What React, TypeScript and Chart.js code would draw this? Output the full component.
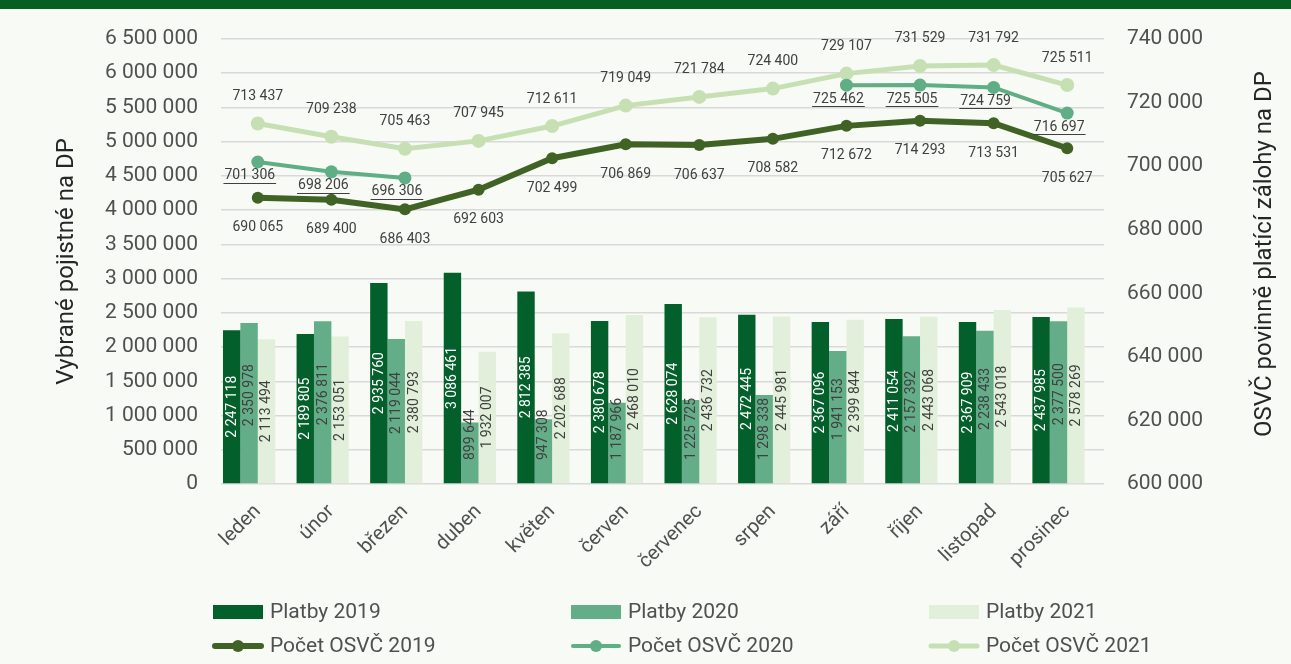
import React, { useEffect, useRef } from 'react';
import { Chart, registerables } from 'chart.js';
Chart.register(...registerables);

const months = ['leden', 'únor', 'březen', 'duben', 'květen', 'červen', 'červenec', 'srpen', 'září', 'říjen', 'listopad', 'prosinec'];
const platby2019 = [2247118, 2189805, 2935760, 3086461, 2812385, 2380678, 2628074, 2472445, 2367096, 2411054, 2367909, 2437985];
const platby2020 = [2350978, 2376811, 2119044, 899644, 947308, 1187966, 1225725, 1298338, 1941153, 2157392, 2238433, 2377500];
const platby2021 = [2113494, 2153051, 2380793, 1932007, 2202688, 2468010, 2436732, 2445981, 2399844, 2443068, 2543018, 2578269];
const osvc2019 = [690065, 689400, 686403, 692603, 702499, 706869, 706637, 708582, 712672, 714293, 713531, 705627];
const osvc2020 = [701306, 698206, 696306, null, null, null, null, null, 725462, 725505, 724759, 716697];
const osvc2021 = [713437, 709238, 705463, 707945, 712611, 719049, 721784, 724400, 729107, 731529, 731792, 725511];

const seriesNames = ['Platby 2019', 'Platby 2020', 'Platby 2021', 'Počet OSVČ 2019', 'Počet OSVČ 2020', 'Počet OSVČ 2021'];
const leftTitle = 'Vybrané pojistné na DP';
const rightTitle = 'OSVČ povinně platící zálohy na DP';

const C_BAR19 = '#04602B';
const C_BAR20 = '#63AE88';
const C_BAR21 = '#E2EFDA';
const C_LINE19 = '#406325';
const C_LINE20 = '#60AE86';
const C_LINE21 = '#C6E0B4';
const TEXT = '#505050';
const TITLE = '#262626';
const FONT = 'Roboto, "Noto Sans", sans-serif';

const fmt = (v: number) => String(Math.round(v)).replace(/\B(?=(\d{3})+(?!\d))/g, ' ');

// label styling per dataset label
const labelStyle: Record<string, any> = {
  'Platby 2019': { kind: 'bar', color: '#FFFFFF', dy: 0 },
  'Platby 2020': { kind: 'bar', color: '#404040', dy: -8 },
  'Platby 2021': { kind: 'bar', color: '#404040', dy: 0 },
  'Počet OSVČ 2019': { kind: 'line', color: '#404040', dx: 0, dy: 30 },
  'Počet OSVČ 2020': { kind: 'line', color: '#404040', dx: -8, dy: 14, underline: true },
  'Počet OSVČ 2021': { kind: 'line', color: '#404040', dx: 0, dy: -27 },
};

const valueLabels = {
  id: 'valueLabels',
  afterDatasetsDraw(chart: any) {
    const ctx = chart.ctx;
    const bottom = chart.chartArea.bottom;
    chart.data.datasets.forEach((ds: any, i: number) => {
      const st = labelStyle[ds.label];
      if (!st) return;
      const meta = chart.getDatasetMeta(i);
      meta.data.forEach((el: any, j: number) => {
        const v = ds.data[j];
        if (v == null) return;
        const text = fmt(v);
        ctx.save();
        ctx.fillStyle = st.color;
        ctx.font = `14px ${FONT}`;
        if (st.kind === 'bar') {
          const len = ctx.measureText(text).width;
          const { x, y, base } = el.getProps(['x', 'y', 'base'], true);
          let cy = (y + base) / 2 + st.dy;
          cy = Math.min(cy, bottom - 24 - len / 2);
          ctx.translate(x + 0.5, cy);
          ctx.rotate(-Math.PI / 2);
          ctx.textAlign = 'center';
          ctx.textBaseline = 'middle';
          ctx.fillText(text, 0, 0);
        } else {
          const { x, y } = el.getProps(['x', 'y'], true);
          const tx = x + st.dx;
          const ty = y + st.dy;
          ctx.textAlign = 'center';
          ctx.textBaseline = 'middle';
          ctx.fillText(text, tx, ty);
          if (st.underline) {
            const w = ctx.measureText(text).width;
            ctx.strokeStyle = st.color;
            ctx.lineWidth = 1;
            ctx.beginPath();
            ctx.moveTo(tx - w / 2 - 1, Math.round(ty + 7) + 0.5);
            ctx.lineTo(tx + w / 2 + 1, Math.round(ty + 7) + 0.5);
            ctx.stroke();
          }
        }
        ctx.restore();
      });
    });
  },
};

const legendCols = [213, 571, 929];
const legendRows = [612, 646];

const customLegend = {
  id: 'customLegend',
  afterDraw(chart: any) {
    const ctx = chart.ctx;
    seriesNames.forEach((name, k) => {
      const ds = chart.data.datasets.find((d: any) => d.label === name);
      if (!ds) return;
      const col = k % 3;
      const row = Math.floor(k / 3);
      const x0 = legendCols[col];
      const cy = legendRows[row];
      ctx.save();
      if (ds.type === 'bar') {
        ctx.fillStyle = ds.backgroundColor;
        ctx.fillRect(x0, cy - 7, 50, 14);
      } else {
        ctx.strokeStyle = ds.borderColor;
        ctx.lineWidth = ds.borderWidth;
        ctx.lineCap = 'round';
        ctx.beginPath();
        ctx.moveTo(x0 + 2, cy);
        ctx.lineTo(x0 + 48, cy);
        ctx.stroke();
        ctx.fillStyle = ds.borderColor;
        ctx.beginPath();
        ctx.arc(x0 + 25, cy, 6, 0, Math.PI * 2);
        ctx.fill();
      }
      ctx.fillStyle = TEXT;
      ctx.font = `21px ${FONT}`;
      ctx.textAlign = 'left';
      ctx.textBaseline = 'middle';
      ctx.fillText(ds.label, x0 + 57, cy + 1);
      ctx.restore();
    });
    // right axis title, reading bottom-to-top
    ctx.save();
    ctx.fillStyle = TITLE;
    ctx.font = `24px ${FONT}`;
    ctx.textAlign = 'center';
    ctx.textBaseline = 'middle';
    ctx.translate(1265, 254);
    ctx.rotate(-Math.PI / 2);
    ctx.fillText(rightTitle, 0, 0);
    ctx.restore();
  },
};

export default function App() {
  const ref = useRef<HTMLCanvasElement>(null);
  useEffect(() => {
    document.body.style.margin = '0';
    document.body.style.overflow = 'hidden';
    const canvas = ref.current!;
    const chart = new Chart(canvas, {
      data: {
        labels: months,
        datasets: [
          { type: 'line', label: seriesNames[3], data: osvc2019, yAxisID: 'y1', borderColor: C_LINE19, backgroundColor: C_LINE19, borderWidth: 6, pointRadius: 6, pointBackgroundColor: C_LINE19, pointBorderWidth: 0, order: 1 },
          { type: 'line', label: seriesNames[4], data: osvc2020, yAxisID: 'y1', borderColor: C_LINE20, backgroundColor: C_LINE20, borderWidth: 4, pointRadius: 6.5, pointBackgroundColor: C_LINE20, pointBorderWidth: 0, order: 2 },
          { type: 'line', label: seriesNames[5], data: osvc2021, yAxisID: 'y1', borderColor: C_LINE21, backgroundColor: C_LINE21, borderWidth: 5, pointRadius: 7, pointBackgroundColor: C_LINE21, pointBorderWidth: 0, order: 3 },
          { type: 'bar', label: seriesNames[0], data: platby2019, yAxisID: 'y', backgroundColor: C_BAR19, order: 10 },
          { type: 'bar', label: seriesNames[1], data: platby2020, yAxisID: 'y', backgroundColor: C_BAR20, order: 10 },
          { type: 'bar', label: seriesNames[2], data: platby2021, yAxisID: 'y', backgroundColor: C_BAR21, order: 10 },
          { type: 'bar', label: '', data: months.map(() => null), yAxisID: 'y', backgroundColor: 'transparent', order: 10 },
        ] as any,
      },
      options: {
        animation: false,
        responsive: false,
        events: [],
        layout: { padding: { top: 39, left: 0, right: 0, bottom: 0 } },
        datasets: { bar: { barPercentage: 1, categoryPercentage: 0.946 } } as any,
        plugins: { legend: { display: false }, tooltip: { enabled: false } },
        scales: {
          x: {
            type: 'category',
            offset: true,
            grid: { display: false },
            border: { display: false },
            ticks: {
              autoSkip: false, minRotation: 45, maxRotation: 45, padding: 8,
              color: TEXT, font: { family: FONT, size: 20 },
            },
            afterFit: (s: any) => { s.height = 180; },
          },
          y: {
            position: 'left',
            min: 0, max: 6500000,
            grid: { color: '#D9D9D9', lineWidth: 1.5, drawTicks: false },
            border: { display: false },
            ticks: { stepSize: 500000, padding: 23, color: TEXT, font: { family: FONT, size: 21 }, callback: (v: any) => fmt(Number(v)) },
            title: { display: true, text: leftTitle, color: TITLE, font: { family: FONT, size: 24 }, padding: { top: 53, bottom: 0 } },
            afterFit: (s: any) => { s.width = 221; },
          },
          y1: {
            position: 'right',
            min: 600000, max: 740000,
            grid: { display: false, drawTicks: false },
            border: { display: false },
            ticks: { stepSize: 20000, padding: 23, color: TEXT, font: { family: FONT, size: 21 }, callback: (v: any) => fmt(Number(v)) },
            title: { display: false },
            afterFit: (s: any) => { s.width = 187; },
          },
        },
      } as any,
      plugins: [valueLabels, customLegend],
    });
    return () => chart.destroy();
  }, []);

  return (
    <div style={{ position: 'relative', width: 1291, height: 664, background: '#F8FAF6', overflow: 'hidden' }}>
      <div style={{ position: 'absolute', left: 0, top: 0, width: 1291, height: 9, background: '#065F22' }} />
      <canvas ref={ref} width={1291} height={664} style={{ position: 'absolute', left: 0, top: 0, display: 'block' }} />
    </div>
  );
}
